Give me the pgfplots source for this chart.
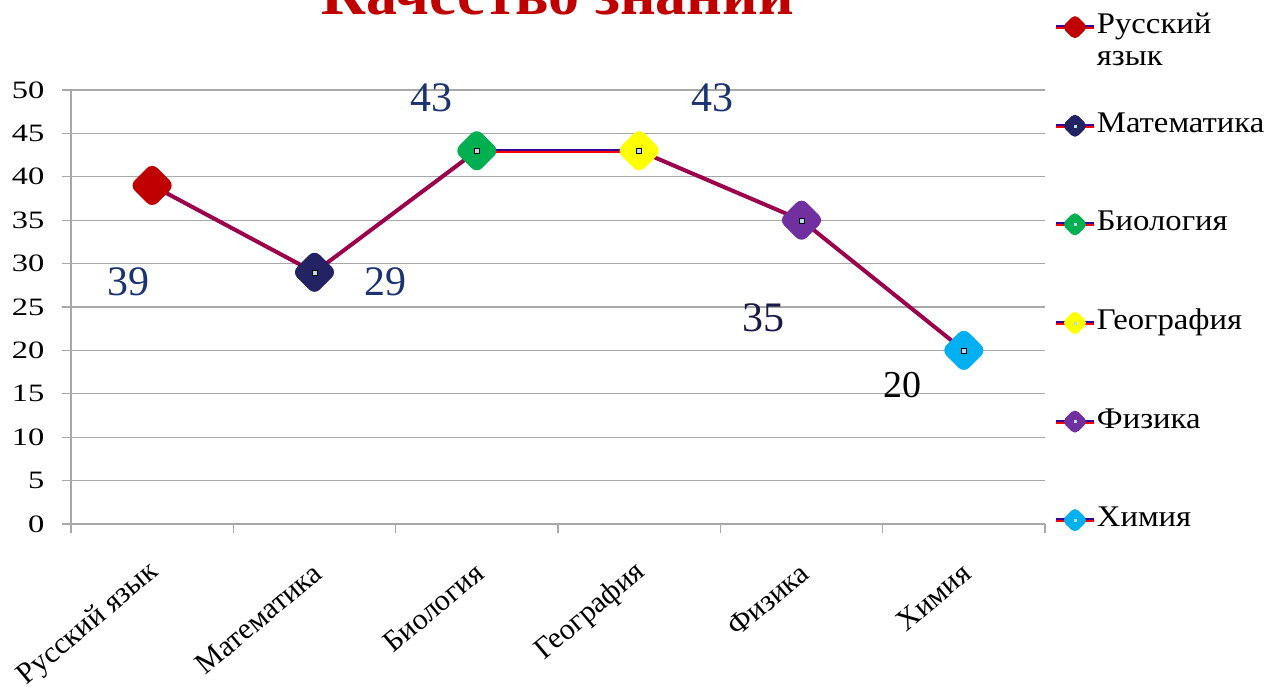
\documentclass[border=0pt]{standalone}
\usepackage{fontspec}
\setmainfont{Liberation Serif}
\newfontfamily\wideserif{Liberation Serif}[FakeStretch=1.3]
\newfontfamily\legserif{Liberation Serif}[FakeStretch=1.09]
\usepackage{pgfplots}
\pgfplotsset{compat=1.18}
\definecolor{gridgray}{HTML}{A8A8A8}
\definecolor{titlered}{HTML}{C00000}
\definecolor{mred}{HTML}{C00000}
\definecolor{mnavy}{HTML}{232262}
\definecolor{mgreen}{HTML}{00B050}
\definecolor{myellow}{HTML}{FFFF00}
\definecolor{mpurple}{HTML}{7030A0}
\definecolor{mcyan}{HTML}{00B0F0}
\definecolor{dotblue}{HTML}{B7DDE8}
\definecolor{lred}{HTML}{FF0000}
\definecolor{lpurp}{HTML}{3A0096}
\definecolor{labnavy}{HTML}{1B3470}
\definecolor{labdark}{HTML}{1A1A48}
\pgfplotsset{rdm/.style={only marks, mark=square*, mark size=8.5pt,
  mark options={rotate=45, fill=#1, draw=#1, line width=15pt, line join=round}, forget plot},
  grad/.style={mesh, shader=interp, point meta=explicit, point meta min=0, point meta max=1,
  line width=4pt, forget plot}}
\newcommand{\legimg}[2]{\addlegendimage{legend image code/.code={
  \draw[line width=2pt, lred] (0pt,-1pt) -- (38pt,-1pt);
  \draw[line width=2pt, lpurp] (0pt,1pt) -- (38pt,1pt);
  \filldraw[#1, line width=10pt, line join=round] (19pt,6pt) -- (25pt,0pt) -- (19pt,-6pt) -- (13pt,0pt) -- cycle;
  #2
}}}
\begin{document}
\begin{tikzpicture}
\begin{axis}[
  at={(0pt,0pt)}, anchor=south west,
  scale only axis, width=974pt, height=434pt,
  xmin=-0.5, xmax=5.5, ymin=0, ymax=50,
  clip=false,
  colormap={rp}{rgb255=(255,0,0) rgb255=(58,0,150)},
  axis x line*=bottom, axis y line*=left,
  axis line style={draw=gridgray, line width=1.2pt, -},
  xtick={-0.5,0.5,...,5.5},
  xticklabels={Русский язык, Математика, Биология, География, Физика, Химия, {}},
  ytick={0,5,...,50},
  ymajorgrids, grid style={gridgray, line width=1.2pt},
  tick align=outside,
  major tick length=9pt,
  tick style={draw=gridgray, line width=1.2pt},
  /pgf/number format/assume math mode=true,
  yticklabel style={font=\fontsize{25}{25}\wideserif, anchor=east, xshift=-14pt},
  xticklabel style={xshift=84pt, yshift=-36pt, rotate=40, anchor=east, inner sep=0pt, font=\fontsize{30}{30}\selectfont},
  legend style={at={(1.010,1.181)}, anchor=north west, draw=none, fill=none,
    font=\fontsize{30}{34}\legserif, row sep=67.6pt, column sep=0pt, inner sep=0pt,
    nodes={inner sep=2pt, text height=20pt, text depth=7pt}},
  legend cell align=left,
]
% line segments (vertical gradient: purple on top, red at bottom)
\addplot[grad] coordinates {(0,39) [1] (1,29) [0]};
\addplot[grad] coordinates {(1,29) [0] (2,43) [1]};
\addplot[lred, line width=2pt, yshift=-1pt, forget plot] coordinates {(2,43) (3,43)};
\addplot[lpurp, line width=2pt, yshift=1pt, forget plot] coordinates {(2,43) (3,43)};
\addplot[grad] coordinates {(3,43) [1] (4,35) [0]};
\addplot[grad] coordinates {(4,35) [1] (5,20) [0]};
% markers
\addplot[rdm=mred] coordinates {(0,39)};
\addplot[rdm=mnavy] coordinates {(1,29)};
\addplot[rdm=mgreen] coordinates {(2,43)};
\addplot[rdm=myellow] coordinates {(3,43)};
\addplot[rdm=mpurple] coordinates {(4,35)};
\addplot[rdm=mcyan] coordinates {(5,20)};
\addplot[only marks, mark=square*, mark size=2.5pt, mark options={fill=dotblue, draw=none}, forget plot] coordinates {(1,29) (2,43) (3,43) (4,35) (5,20)};
% data labels
\node[labnavy, font=\fontsize{42}{42}\selectfont, inner sep=0pt] at (axis cs:-0.146,27.94) {39};
\node[labnavy, font=\fontsize{42}{42}\selectfont, inner sep=0pt] at (axis cs:1.440,27.94) {29};
\node[labnavy, font=\fontsize{42}{42}\selectfont, inner sep=0pt] at (axis cs:1.718,49.08) {43};
\node[labnavy, font=\fontsize{42}{42}\selectfont, inner sep=0pt] at (axis cs:3.452,49.08) {43};
\node[labdark, font=\fontsize{42}{42}\selectfont, inner sep=0pt] at (axis cs:3.766,23.73) {35};
\node[black, font=\fontsize{38}{38}\selectfont, inner sep=0pt] at (axis cs:4.625,15.96) {20};
% legend
\legimg{mred}{}
\addlegendentry{\begin{tabular}[t]{@{}l@{}}Русский\\[-2pt]язык\end{tabular}}
\legimg{mnavy}{\fill[dotblue] (18pt,-1pt) rectangle (20pt,1pt);}
\addlegendentry{Математика}
\legimg{mgreen}{\fill[dotblue] (18pt,-1pt) rectangle (20pt,1pt);}
\addlegendentry{Биология}
\legimg{myellow}{\fill[dotblue] (18pt,-1pt) rectangle (20pt,1pt);}
\addlegendentry{География}
\legimg{mpurple}{\fill[dotblue] (18pt,-1pt) rectangle (20pt,1pt);}
\addlegendentry{Физика}
\legimg{mcyan}{\fill[dotblue] (18pt,-1pt) rectangle (20pt,1pt);}
\addlegendentry{Химия}
\end{axis}
\node[font=\fontsize{62}{62}\selectfont\bfseries, text=titlered, anchor=base, inner sep=0pt] at (487pt,509pt) {Качество знаний};
\pgfresetboundingbox
\path[use as bounding box] (-71pt,-162pt) rectangle (1193pt,524pt);
\end{tikzpicture}
\end{document}
